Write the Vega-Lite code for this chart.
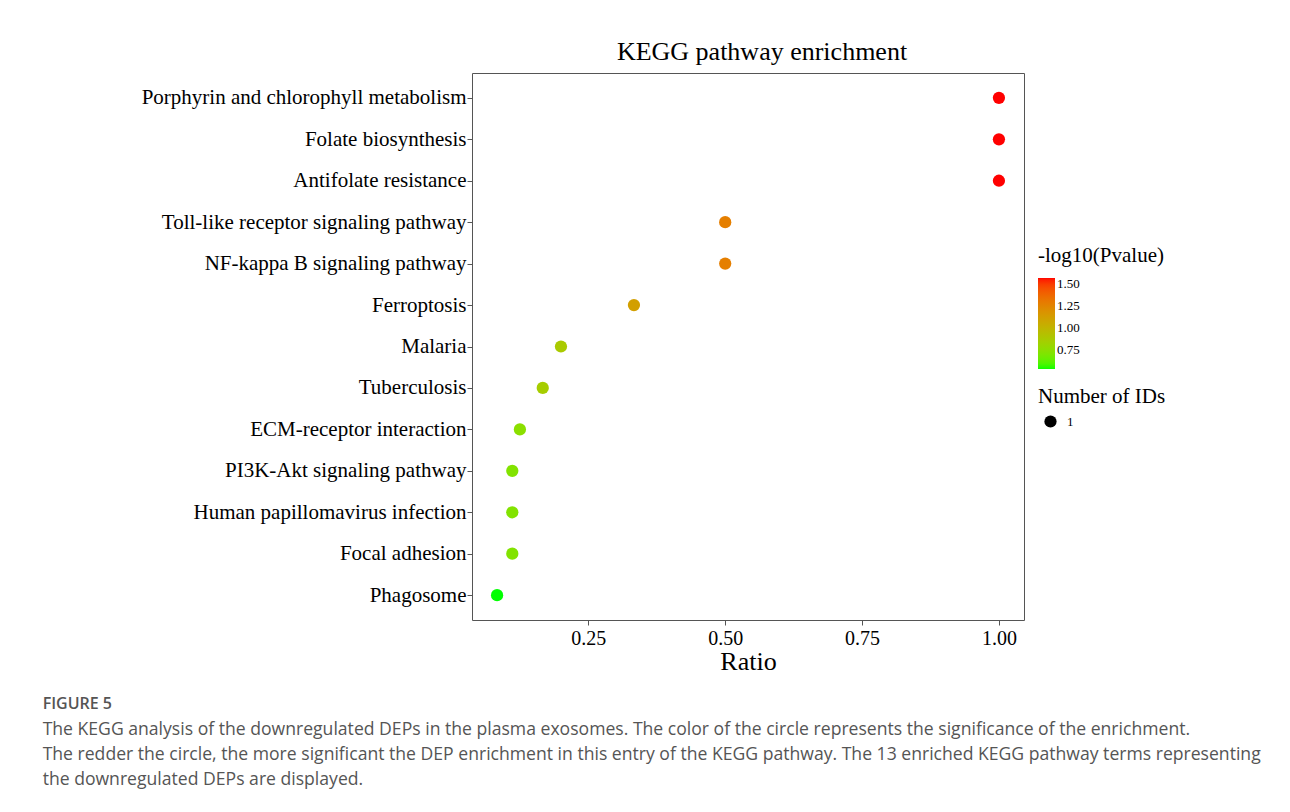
{
  "$schema": "https://vega.github.io/schema/vega-lite/v6.json",
  "background": "white",
  "padding": {"left": 42, "top": 38, "right": 5, "bottom": 5},
  "config": {"font": "Liberation Serif", "view": {"stroke": "#555555", "strokeWidth": 1}},
  "title": {
    "text": "FIGURE 5",
    "subtitle": [
      "The KEGG analysis of the downregulated DEPs in the plasma exosomes. The color of the circle represents the significance of the enrichment.",
      "The redder the circle, the more significant the DEP enrichment in this entry of the KEGG pathway. The 13 enriched KEGG pathway terms representing",
      "the downregulated DEPs are displayed."
    ],
    "orient": "bottom",
    "anchor": "start",
    "frame": "bounds",
    "font": "Open Sans",
    "fontSize": 16,
    "fontWeight": 600,
    "color": "#555555",
    "subtitleFont": "Open Sans",
    "subtitleFontSize": 17.6,
    "subtitleColor": "#555555",
    "subtitleLineHeight": 25,
    "subtitlePadding": 9,
    "offset": 21,
    "dx": -98
  },
  "vconcat": [
    {
      "title": {"text": "KEGG pathway enrichment", "fontSize": 26, "fontWeight": "normal", "color": "black", "font": "Liberation Serif", "offset": 8, "dx": 14},
      "width": 552,
      "height": 547,
      "data": {
        "values": [
          {"term": "Porphyrin and chlorophyll metabolism", "ratio": 1.0, "nlogp": 1.57, "n": 1},
          {"term": "Folate biosynthesis", "ratio": 1.0, "nlogp": 1.57, "n": 1},
          {"term": "Antifolate resistance", "ratio": 1.0, "nlogp": 1.57, "n": 1},
          {"term": "Toll-like receptor signaling pathway", "ratio": 0.5, "nlogp": 1.28, "n": 1},
          {"term": "NF-kappa B signaling pathway", "ratio": 0.5, "nlogp": 1.28, "n": 1},
          {"term": "Ferroptosis", "ratio": 0.3333, "nlogp": 1.12, "n": 1},
          {"term": "Malaria", "ratio": 0.2, "nlogp": 0.88, "n": 1},
          {"term": "Tuberculosis", "ratio": 0.1667, "nlogp": 0.86, "n": 1},
          {"term": "ECM-receptor interaction", "ratio": 0.125, "nlogp": 0.75, "n": 1},
          {"term": "PI3K-Akt signaling pathway", "ratio": 0.1111, "nlogp": 0.72, "n": 1},
          {"term": "Human papillomavirus infection", "ratio": 0.1111, "nlogp": 0.72, "n": 1},
          {"term": "Focal adhesion", "ratio": 0.1111, "nlogp": 0.72, "n": 1},
          {"term": "Phagosome", "ratio": 0.0833, "nlogp": 0.54, "n": 1}
        ]
      },
      "mark": {"type": "circle", "opacity": 1},
      "encoding": {
        "x": {
          "field": "ratio", "type": "quantitative",
          "scale": {"domain": [0.0375, 1.0458], "nice": false, "zero": false},
          "axis": {"values": [0.25, 0.5, 0.75, 1.0], "format": ".2f", "grid": false, "domain": false,
                   "title": "Ratio", "titleFontSize": 26, "titleFontWeight": "normal", "titleColor": "black", "titlePadding": 0,
                   "labelFontSize": 20, "labelColor": "black", "tickColor": "#555555", "tickSize": 5, "labelPadding": 3}
        },
        "y": {
          "field": "term", "type": "nominal", "sort": null,
          "scale": {"padding": 0.6},
          "axis": {"title": null, "grid": false, "domain": false, "labelFontSize": 21, "labelColor": "black",
                   "tickColor": "#555555", "tickSize": 5, "labelPadding": 1, "labelLimit": 500}
        },
        "color": {
          "field": "nlogp", "type": "quantitative",
          "scale": {"domain": [0.54, 1.57], "range": ["#00ff00", "#ff0000"], "interpolate": "lab"},
          "legend": {"title": "-log10(Pvalue)", "titleFontSize": 21, "titleFontWeight": "normal", "titleColor": "black",
                     "values": [0.75, 1.0, 1.25, 1.5], "format": ".2f", "gradientLength": 91, "gradientThickness": 17,
                     "labelFontSize": 13, "labelColor": "black", "gradientStrokeWidth": 0, "titlePadding": 12,
                     "orient": "none", "legendX": 566, "legendY": 172}
        },
        "size": {
          "field": "n", "type": "quantitative",
          "scale": {"domain": [0, 1], "range": [0, 150]},
          "legend": {"title": "Number of IDs", "titleFontSize": 21, "titleFontWeight": "normal", "titleColor": "black",
                     "values": [1], "format": "d",
                     "labelFontSize": 13, "labelColor": "black", "symbolFillColor": "black", "symbolType": "circle",
                     "symbolStrokeWidth": 0, "symbolOpacity": 1, "symbolOffset": 6, "labelOffset": 10, "titlePadding": 8,
                     "orient": "none", "legendX": 566, "legendY": 313}
        }
      }
    }
  ]
}
